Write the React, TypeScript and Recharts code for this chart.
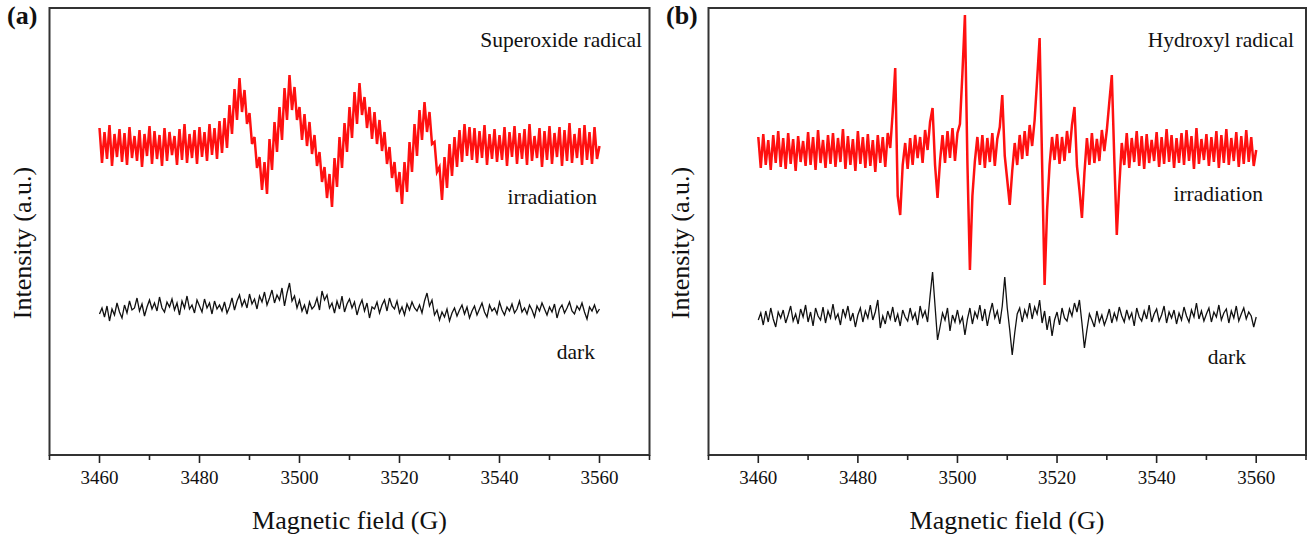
import { LineChart, Line, XAxis, YAxis, ReferenceArea } from "recharts";

// sweep: 3460 G to 3560 G, 0.5 G per point
const FIELD_START = 3460;
const FIELD_STEP = 0.5;

const FIELD_TICKS = [3450, 3460, 3470, 3480, 3490, 3500, 3510, 3520, 3530, 3540, 3550, 3560, 3570];

// (a) superoxide radical (arbitrary units)
const IRRADIATION_A = [
  330, 295, 326, 299, 333, 292, 324, 301, 329, 296,
  325, 293, 331, 300, 322, 297, 328, 291, 324, 302,
  332, 294, 327, 299, 323, 292, 330, 297, 326, 303,
  322, 293, 329, 298, 334, 295, 324, 300, 328, 294,
  331, 301, 326, 297, 334, 303, 330, 299, 337, 305,
  340, 310, 353, 324, 369, 338, 380, 346, 368, 334,
  345, 314, 321, 290, 301, 268, 296, 264, 319, 288,
  336, 306, 351, 318, 370, 338, 383, 348, 371, 338,
  351, 318, 344, 312, 336, 304, 323, 292, 306, 276,
  291, 260, 284, 251, 300, 271, 321, 290, 335, 306,
  351, 320, 366, 334, 375, 343, 361, 330, 351, 319,
  346, 314, 338, 307, 326, 294, 311, 280, 296, 266,
  286, 254, 296, 266, 316, 286, 334, 302, 348, 318,
  356, 326, 346, 314, 316, 286, 291, 258, 301, 270,
  314, 282, 321, 291, 328, 296, 334, 302, 331, 298,
  330, 295, 327, 300, 333, 293, 324, 299, 329, 296,
  323, 298, 331, 292, 326, 301, 332, 294, 325, 299,
  329, 293, 334, 297, 322, 300, 330, 291, 327, 298,
  332, 294, 325, 301, 331, 292, 328, 297, 335, 295,
  324, 300, 330, 293, 333, 298, 326, 294, 331, 299,
  312,
];

const DARK_A = [
  144, 150, 141, 152, 137, 149, 143, 155, 146, 140,
  153, 145, 157, 148, 150, 160, 147, 154, 142, 151,
  158, 149, 155, 147, 161, 150, 146, 156, 151, 159,
  148, 155, 143, 157, 150, 162, 149, 153, 145, 158,
  152, 146, 159, 150, 155, 144, 157, 149, 153, 147,
  156, 145, 151, 160, 148, 157, 163, 152, 158, 150,
  164, 154, 159, 149, 162, 156, 166, 153, 160, 168,
  155, 163, 158, 170, 152, 165, 175, 157, 162, 150,
  158, 147, 153, 144, 156, 149, 152, 160, 148, 167,
  158, 163, 150, 155, 145, 157, 149, 162, 146, 154,
  159, 150, 156, 143, 152, 158, 147, 155, 140, 151,
  149, 156, 145, 153, 158, 147, 160, 152, 149, 157,
  145, 151, 143, 154, 148, 156, 150, 147, 153, 145,
  157, 165, 152, 158, 143, 148, 138, 146, 141, 149,
  137, 145, 150, 142, 148, 153, 144, 151, 140, 147,
  152, 143, 149, 155, 146, 141, 153, 147, 150, 144,
  156, 148, 143, 151, 147, 154, 145, 149, 157, 146,
  150, 144, 153, 148, 141, 152, 147, 155, 149, 143,
  151, 146, 154, 140, 149, 153, 145, 150, 156, 147,
  144, 152, 148, 155, 146, 139, 151, 147, 153, 145,
  149,
];

// (b) hydroxyl radical
const IRRADIATION_B = [
  321, 290, 324, 293, 318, 288, 323, 295, 327, 291,
  320, 289, 325, 294, 319, 287, 322, 296, 317, 292,
  326, 293, 321, 288, 328, 295, 318, 290, 323, 294,
  325, 291, 320, 296, 329, 289, 322, 293, 319, 287,
  327, 294, 321, 290, 324, 292, 318, 286, 323, 295,
  321, 291, 325, 310, 346, 390, 262, 243, 293, 315,
  289, 320, 293, 323, 300, 321, 295, 328, 308, 336,
  350, 293, 260, 297, 323, 295, 327, 300, 330, 297,
  325, 334, 385, 443, 295, 188, 262, 297, 321, 293,
  323, 290, 320, 296, 325, 292, 319, 331, 363, 302,
  278, 253, 287, 315, 293, 323, 299, 327, 302, 333,
  312, 338, 378, 420, 295, 173, 248, 293, 321, 298,
  324, 294, 321, 297, 327, 305, 333, 351, 292, 268,
  240, 285, 320, 293, 325, 295, 319, 297, 328, 307,
  328, 356, 383, 299, 223, 272, 315, 293, 325, 290,
  320, 296, 327, 292, 322, 289, 324, 295, 318, 297,
  326, 291, 321, 294, 329, 296, 323, 290, 320, 295,
  325, 293, 328, 297, 322, 289, 330, 294, 319, 298,
  324, 292, 321, 296, 327, 290, 323, 295, 329, 293,
  320, 297, 326, 291, 322, 294, 328, 296, 321, 292,
  308,
];

const DARK_B = [
  138, 145, 133, 147, 136, 150, 139, 131, 146, 140,
  148, 135, 143, 152, 137, 144, 134, 149, 141, 153,
  136, 146, 132, 150, 142, 138, 151, 135, 147, 140,
  154, 139, 144, 133, 149, 141, 152, 137, 145, 131,
  143, 150, 136, 147, 140, 153, 138, 146, 158, 130,
  142, 134, 147, 139, 151, 136, 144, 132, 148, 141,
  137, 150, 139, 145, 133, 152, 141, 147, 136, 162,
  186, 152, 118, 131, 145, 138, 150, 127, 143, 136,
  148, 135, 141, 123, 139, 150, 134, 146, 140, 153,
  137, 149, 132, 145, 155, 140, 147, 134, 152, 181,
  150, 128, 103, 125, 144, 150, 136, 148, 141, 155,
  139, 151, 144, 158, 135, 147, 128, 142, 122, 138,
  146, 133, 150, 140, 137, 149, 142, 155, 146, 158,
  135, 110, 128, 144, 138, 131, 147, 136, 143, 133,
  140, 149, 135, 145, 138, 151, 142, 136, 148, 139,
  145, 132, 150, 141, 137, 147, 139, 153, 136, 144,
  149, 137, 143, 152, 135, 146, 140, 148, 134, 145,
  138, 151, 142, 136, 148, 141, 155, 139, 147, 137,
  144, 150, 136, 146, 141, 153, 138, 145, 149, 135,
  147, 140, 152, 137, 144, 150, 139, 146, 142, 131,
  141,
];

const SERIF = '"Liberation Serif", "Times New Roman", serif';
const X_DOMAIN: [number, number] = [3450, 3570];
const Y_DOMAIN: [number, number] = [3, 450];

const buildRows = (irr: number[], dark: number[]) =>
  irr.map((v, i) => ({ field: FIELD_START + i * FIELD_STEP, irradiation: v, dark: dark[i] }));

const FieldTick = ({ x, y, payload }: any) => {
  const major = payload.value % 20 === 0;
  return (
    <g>
      <line x1={x} x2={x} y1={y} y2={y + (major ? 8 : 5)} stroke="#222" strokeWidth={1.6} />
      {major && (
        <text x={x} y={y + 22} textAnchor="middle" dominantBaseline="central" fontFamily={SERIF} fontSize={19} fill="#111">
          {payload.value}
        </text>
      )}
    </g>
  );
};

function EprPanel({ irr, dark, left, width, marginLeft, marginRight }: any) {
  const rows = buildRows(irr, dark);
  return (
    <div style={{ position: "absolute", left, top: 0 }}>
      <LineChart width={width} height={535} data={rows} margin={{ top: 8, right: marginRight, bottom: 0, left: marginLeft }}>
        <XAxis
          dataKey="field"
          type="number"
          domain={X_DOMAIN}
          ticks={FIELD_TICKS}
          interval={0}
          allowDataOverflow
          height={80}
          tickSize={0}
          tickMargin={0}
          tickLine={false}
          axisLine={false}
          tick={<FieldTick />}
        />
        <YAxis hide width={0} type="number" domain={Y_DOMAIN} allowDataOverflow />
        <ReferenceArea x1={3450} x2={3570} y1={3} y2={450} fill="none" stroke="#333" strokeWidth={2} fillOpacity={0} />
        <Line dataKey="irradiation" stroke="#ff1010" strokeWidth={2.5} strokeLinejoin="miter" dot={false} type="linear" isAnimationActive={false} />
        <Line dataKey="dark" stroke="#111" strokeWidth={1.3} dot={false} type="linear" isAnimationActive={false} />
      </LineChart>
    </div>
  );
}

export default function App() {
  return (
    <div style={{ position: "relative", width: 1311, height: 535, background: "#fff", overflow: "hidden" }}>
      <style>{"body{margin:0}"}</style>
      <EprPanel irr={IRRADIATION_A} dark={DARK_A} left={0} width={660} marginLeft={49.5} marginRight={10.5} />
      <EprPanel irr={IRRADIATION_B} dark={DARK_B} left={655} width={656} marginLeft={53.5} marginRight={5} />
      <svg width={1311} height={535} style={{ position: "absolute", left: 0, top: 0, pointerEvents: "none" }} fontFamily={SERIF} fill="#111">
        <text x={7} y={15} fontSize={26} fontWeight="bold" dominantBaseline="central">(a)</text>
        <text x={666} y={15} fontSize={26} fontWeight="bold" dominantBaseline="central">(b)</text>

        <text x={642} y={40} fontSize={21.5} textAnchor="end" dominantBaseline="central">Superoxide radical</text>
        <text x={597} y={197} fontSize={21.5} textAnchor="end" dominantBaseline="central">irradiation</text>
        <text x={595} y={352} fontSize={21.5} textAnchor="end" dominantBaseline="central">dark</text>

        <text x={1294} y={40} fontSize={21.5} textAnchor="end" dominantBaseline="central">Hydroxyl radical</text>
        <text x={1263} y={194} fontSize={21.5} textAnchor="end" dominantBaseline="central">irradiation</text>
        <text x={1246} y={357} fontSize={21.5} textAnchor="end" dominantBaseline="central">dark</text>

        <text x={22} y={243} fontSize={26} textAnchor="middle" dominantBaseline="central" transform="rotate(-90, 22, 243)">Intensity (a.u.)</text>
        <text x={680} y={243} fontSize={26} textAnchor="middle" dominantBaseline="central" transform="rotate(-90, 680, 243)">Intensity (a.u.)</text>

        <text x={349.5} y={520} fontSize={26} textAnchor="middle" dominantBaseline="central">Magnetic field (G)</text>
        <text x={1007} y={520} fontSize={26} textAnchor="middle" dominantBaseline="central">Magnetic field (G)</text>
      </svg>
    </div>
  );
}
